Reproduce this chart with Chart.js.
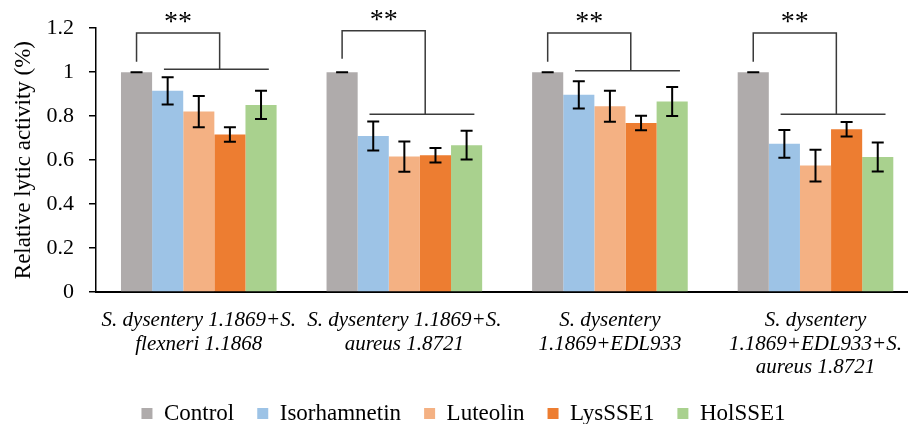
<!DOCTYPE html>
<html>
<head>
<meta charset="utf-8">
<script src="https://cdn.jsdelivr.net/npm/chart.js@4"></script>
<style>
  html, body { margin: 0; padding: 0; background: #fff; overflow: hidden; }
  #wrap { position: relative; width: 919px; height: 424px; }
</style>
</head>
<body>
<div id="wrap"><canvas id="c"></canvas></div>
<script>
// Mixed-culture groups (multi-line axis labels)
const categories = [
  ['S. dysentery 1.1869+S.', 'flexneri 1.1868'],
  ['S. dysentery 1.1869+S.', 'aureus 1.8721'],
  ['S. dysentery', '1.1869+EDL933'],
  ['S. dysentery', '1.1869+EDL933+S.', 'aureus 1.8721']
];
const seriesNames = ['Control', 'Isorhamnetin', 'Luteolin', 'LysSSE1', 'HolSSE1'];

// Relative lytic activity per treatment
const control      = [1.000, 1.000, 1.000, 1.000];
const isorhamnetin = [0.915, 0.710, 0.897, 0.674];
const luteolin     = [0.821, 0.616, 0.845, 0.575];
const lysSSE1      = [0.716, 0.622, 0.769, 0.740];
const holSSE1      = [0.851, 0.668, 0.867, 0.614];

// Standard deviations
const controlErr      = [0.000, 0.000, 0.000, 0.000];
const isorhamnetinErr = [0.062, 0.066, 0.062, 0.063];
const luteolinErr     = [0.071, 0.069, 0.071, 0.072];
const lysSSE1Err      = [0.033, 0.033, 0.033, 0.033];
const holSSE1Err      = [0.064, 0.065, 0.066, 0.066];

const yTicks = [0, 0.2, 0.4, 0.6, 0.8, 1, 1.2];

// Significance brackets: control vs. treatments
const sigMarks     = ['**', '**', '**', '**'];
const bracketTop   = [1.178, 1.188, 1.178, 1.178];
const bracketDrop  = [1.047, 1.061, 1.047, 1.047];
const bracketBase  = [1.013, 0.808, 1.007, 0.808];

const seriesValues = [control, isorhamnetin, luteolin, lysSSE1, holSSE1];
const seriesErrors = [controlErr, isorhamnetinErr, luteolinErr, lysSSE1Err, holSSE1Err];
const seriesColors = ['#AFABAB', '#9DC3E6', '#F4B183', '#ED7D31', '#A9D18E'];

const FONT = "'Liberation Serif', 'Times New Roman', serif";

const errorBarPlugin = {
  id: 'errorBars',
  afterDatasetsDraw(chart) {
    const { ctx, scales: { y } } = chart;
    ctx.save();
    ctx.strokeStyle = '#000';
    ctx.lineWidth = 2;
    seriesErrors.forEach((errs, i) => {
      const meta = chart.getDatasetMeta(i);
      meta.data.forEach((bar, j) => {
        const v = seriesValues[i][j];
        const e = errs[j];
        const yHi = y.getPixelForValue(v + e);
        const yLo = y.getPixelForValue(v - e);
        const cap = 6;
        ctx.beginPath();
        ctx.moveTo(bar.x, yHi); ctx.lineTo(bar.x, yLo);
        ctx.moveTo(bar.x - cap, yHi); ctx.lineTo(bar.x + cap, yHi);
        ctx.moveTo(bar.x - cap, yLo); ctx.lineTo(bar.x + cap, yLo);
        ctx.stroke();
      });
    });
    ctx.restore();
  }
};

const bracketPlugin = {
  id: 'sigBrackets',
  afterDatasetsDraw(chart) {
    const { ctx, scales: { y } } = chart;
    const ctrlMeta = chart.getDatasetMeta(0);
    const midMeta = chart.getDatasetMeta(2);
    ctx.save();
    ctx.strokeStyle = '#3a3a3a';
    ctx.lineWidth = 1.5;
    sigMarks.forEach((mark, j) => {
      const ctrl = ctrlMeta.data[j];
      const bw = ctrl.width;
      const center = midMeta.data[j].x;
      const xL = ctrl.x;
      const xR = center + 0.67 * bw;
      const yT = y.getPixelForValue(bracketTop[j]);
      const yD = y.getPixelForValue(bracketDrop[j]);
      const yB = y.getPixelForValue(bracketBase[j]);
      ctx.beginPath();
      ctx.moveTo(xL, yD); ctx.lineTo(xL, yT); ctx.lineTo(xR, yT); ctx.lineTo(xR, yB);
      ctx.moveTo(center - 1.12 * bw, yB); ctx.lineTo(center + 2.25 * bw, yB);
      ctx.stroke();
      ctx.fillStyle = '#000';
      ctx.font = "28px " + FONT;
      ctx.textAlign = 'center';
      ctx.textBaseline = 'alphabetic';
      ctx.fillText(mark, (xL + xR) / 2, yT - 3);
    });
    ctx.restore();
  }
};

// Nudge the legend row inside its layout box
const legendShift = {
  id: 'legendShift',
  afterLayout(chart) {
    const lg = chart.legend;
    if (!lg) return;
    lg.top -= 3; lg.bottom -= 3;
    lg.left += 4; lg.right += 4;
  }
};

function build() {
  return new Chart(document.getElementById('c'), {
    type: 'bar',
    data: {
      labels: categories,
      datasets: seriesNames.map((name, i) => ({
        label: name,
        data: seriesValues[i],
        backgroundColor: seriesColors[i],
        borderWidth: 0,
        barPercentage: 1,
        categoryPercentage: 0.757
      }))
    },
    options: {
      responsive: true,
      maintainAspectRatio: false,
      animation: false,
      layout: { padding: { top: 23, left: 0, right: 0, bottom: -14 } },
      plugins: {
        tooltip: { enabled: false },
        legend: {
          position: 'bottom',
          labels: {
            boxWidth: 11,
            boxHeight: 11,
            padding: 23,
            color: '#000',
            font: { family: FONT, size: 23 }
          }
        }
      },
      scales: {
        x: {
          afterFit(scale) { scale.height = 90; },
          grid: { display: false, drawTicks: false },
          border: { display: true, color: '#000', width: 2 },
          ticks: {
            color: '#000',
            padding: 17,
            maxRotation: 0,
            autoSkip: false,
            font: { family: FONT, size: 21, style: 'italic', lineHeight: 1.12 }
          }
        },
        y: {
          min: 0,
          max: 1.2,
          afterFit(scale) { scale.width = 96; },
          grid: { drawOnChartArea: false, drawTicks: true, tickLength: 7, color: '#000', lineWidth: 1.5 },
          border: { display: true, color: '#000', width: 1.5 },
          ticks: {
            stepSize: 0.2,
            padding: 15,
            color: '#000',
            font: { family: FONT, size: 22 },
            callback: (v, i) => String(yTicks[i])
          },
          title: {
            display: true,
            text: 'Relative lytic activity (%)',
            color: '#000',
            padding: { top: 10, bottom: 0 },
            font: { family: FONT, size: 23 }
          }
        }
      }
    },
    plugins: [errorBarPlugin, bracketPlugin, legendShift]
  });
}

const chart = build();
Promise.all([
  document.fonts.load("21px 'Liberation Serif'"),
  document.fonts.load("italic 21px 'Liberation Serif'")
]).then(() => chart.update()).catch(() => {});
</script>
</body>
</html>
